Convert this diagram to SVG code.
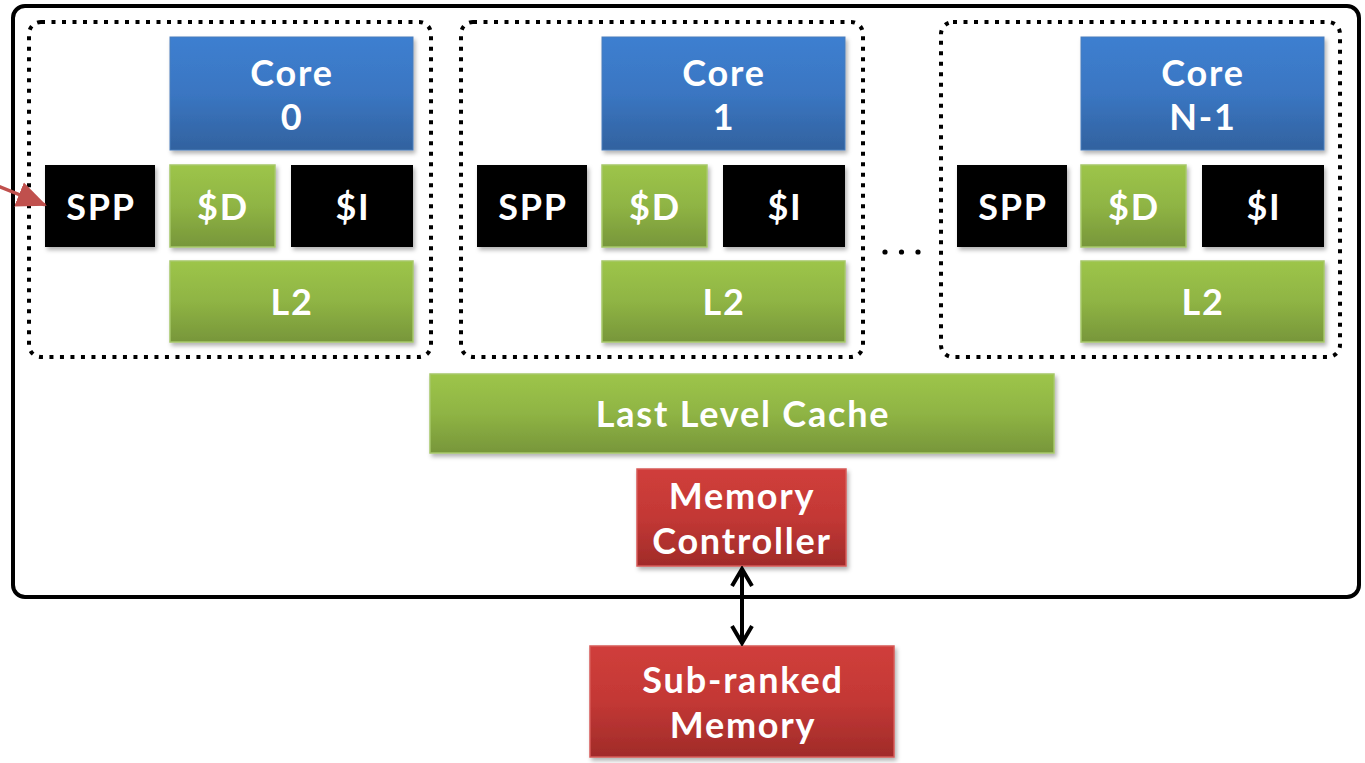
<svg xmlns="http://www.w3.org/2000/svg" width="1365" height="763" viewBox="0 0 1365 763">
  <style>
    .lbl { font-family: Lato, "Open Sans", "Liberation Sans", sans-serif; font-weight: 700; font-size: 36px; letter-spacing: 1.8px; fill: #ffffff; text-anchor: middle; }
    .blue { fill: url(#gBlue); stroke: #4a7ebb; stroke-width: 1; filter: url(#shadow); }
    .green { fill: url(#gGreen); stroke: #a6c76a; stroke-width: 1.5; filter: url(#shadow); }
    .red { fill: url(#gRed); stroke: #d65a57; stroke-width: 1.5; filter: url(#shadow); }
    .black { fill: #000000; filter: url(#shadow); }
    .tile { fill: none; stroke: #000000; stroke-width: 4; stroke-dasharray: 4 6.5; }
  </style>
  <defs>
    <linearGradient id="gBlue" x1="0" y1="0" x2="0" y2="1">
      <stop offset="0" stop-color="#3d7fd0"/>
      <stop offset="0.5" stop-color="#3a76c2"/>
      <stop offset="1" stop-color="#32629f"/>
    </linearGradient>
    <linearGradient id="gGreen" x1="0" y1="0" x2="0" y2="1">
      <stop offset="0" stop-color="#9dc549"/>
      <stop offset="0.5" stop-color="#8fb444"/>
      <stop offset="1" stop-color="#77963a"/>
    </linearGradient>
    <linearGradient id="gRed" x1="0" y1="0" x2="0" y2="1">
      <stop offset="0" stop-color="#d03e3b"/>
      <stop offset="0.5" stop-color="#c33835"/>
      <stop offset="1" stop-color="#a02b29"/>
    </linearGradient>
    <filter id="shadow" x="-10%" y="-10%" width="125%" height="130%">
      <feDropShadow dx="2" dy="3" stdDeviation="2" flood-color="#000000" flood-opacity="0.3"/>
    </filter>
    <!-- open chevron head, drawn pointing along +x -->
    <marker id="chev" viewBox="0 0 22 24" refX="19" refY="12" markerWidth="22" markerHeight="24" markerUnits="userSpaceOnUse" orient="auto-start-reverse">
      <path d="M2,2 L19,12 L2,22" fill="none" stroke="#000000" stroke-width="4" stroke-linejoin="miter"/>
    </marker>
    <marker id="redHead" viewBox="0 0 30 30" refX="28" refY="15" markerWidth="30" markerHeight="30" markerUnits="userSpaceOnUse" orient="auto">
      <path d="M0,2 L30,15 L0,28 Z" fill="#c0504d"/>
    </marker>
  </defs>

  <!-- chip outline -->
  <rect id="chip" x="13" y="6" width="1346" height="591" rx="12" fill="#ffffff" stroke="#000000" stroke-width="4"/>

  <!-- core tile 0 -->
  <g id="tile0">
    <rect class="tile" x="29" y="22" width="402" height="335" rx="12"/>
    <g id="core0"><rect class="blue" x="170" y="37" width="243" height="113"/><text class="lbl" x="292" y="86">Core</text><text class="lbl" x="292" y="130">0</text></g>
    <g id="spp0"><rect class="black" x="45" y="165" width="110" height="82"/><text class="lbl" x="101" y="220">SPP</text></g>
    <g id="dcache0"><rect class="green" x="170" y="165" width="105" height="82"/><text class="lbl" x="223" y="220">$D</text></g>
    <g id="icache0"><rect class="black" x="291" y="165" width="122" height="82"/><text class="lbl" x="353" y="220">$I</text></g>
    <g id="l2_0"><rect class="green" x="170" y="261" width="243" height="81"/><text class="lbl" x="292" y="315">L2</text></g>
  </g>

  <!-- core tile 1 -->
  <g id="tile1">
    <rect class="tile" x="461" y="22" width="402" height="335" rx="12"/>
    <g id="core1"><rect class="blue" x="602" y="37" width="243" height="113"/><text class="lbl" x="724" y="86">Core</text><text class="lbl" x="724" y="130">1</text></g>
    <g id="spp1"><rect class="black" x="477" y="165" width="110" height="82"/><text class="lbl" x="533" y="220">SPP</text></g>
    <g id="dcache1"><rect class="green" x="602" y="165" width="105" height="82"/><text class="lbl" x="655" y="220">$D</text></g>
    <g id="icache1"><rect class="black" x="723" y="165" width="122" height="82"/><text class="lbl" x="785" y="220">$I</text></g>
    <g id="l2_1"><rect class="green" x="602" y="261" width="243" height="81"/><text class="lbl" x="724" y="315">L2</text></g>
  </g>

  <!-- ellipsis between tiles -->
  <g id="ellipsis" fill="#000000">
    <circle cx="885" cy="252" r="2.6"/>
    <circle cx="901.5" cy="252" r="2.6"/>
    <circle cx="918" cy="252" r="2.6"/>
  </g>

  <!-- core tile N-1 -->
  <g id="tileN">
    <rect class="tile" x="941" y="22" width="399" height="335" rx="12"/>
    <g id="coreN"><rect class="blue" x="1081" y="37" width="243" height="113"/><text class="lbl" x="1203" y="86">Core</text><text class="lbl" x="1203" y="130">N-1</text></g>
    <g id="sppN"><rect class="black" x="957" y="165" width="110" height="82"/><text class="lbl" x="1013" y="220">SPP</text></g>
    <g id="dcacheN"><rect class="green" x="1081" y="165" width="105" height="82"/><text class="lbl" x="1134" y="220">$D</text></g>
    <g id="icacheN"><rect class="black" x="1202" y="165" width="122" height="82"/><text class="lbl" x="1264" y="220">$I</text></g>
    <g id="l2_N"><rect class="green" x="1081" y="261" width="243" height="81"/><text class="lbl" x="1203" y="315">L2</text></g>
  </g>

  <!-- shared cache and memory path -->
  <g id="llc"><rect class="green" x="430" y="374" width="624" height="79"/><text class="lbl" x="743" y="427">Last Level Cache</text></g>
  <g id="memctrl"><rect class="red" x="637" y="469" width="209" height="97"/><text class="lbl" x="742" y="509">Memory</text><text class="lbl" x="742" y="554">Controller</text></g>
  <g id="subranked"><rect class="red" x="590" y="646" width="304" height="111"/><text class="lbl" x="743" y="693">Sub-ranked</text><text class="lbl" x="743" y="738">Memory</text></g>

  <!-- connectors -->
  <g id="connectors">
    <line x1="742" y1="569" x2="742" y2="643" stroke="#000000" stroke-width="4" marker-start="url(#chev)" marker-end="url(#chev)"/>
    <line x1="-2" y1="186" x2="45" y2="205" stroke="#c0504d" stroke-width="3.5" marker-end="url(#redHead)"/>
  </g>
</svg>
